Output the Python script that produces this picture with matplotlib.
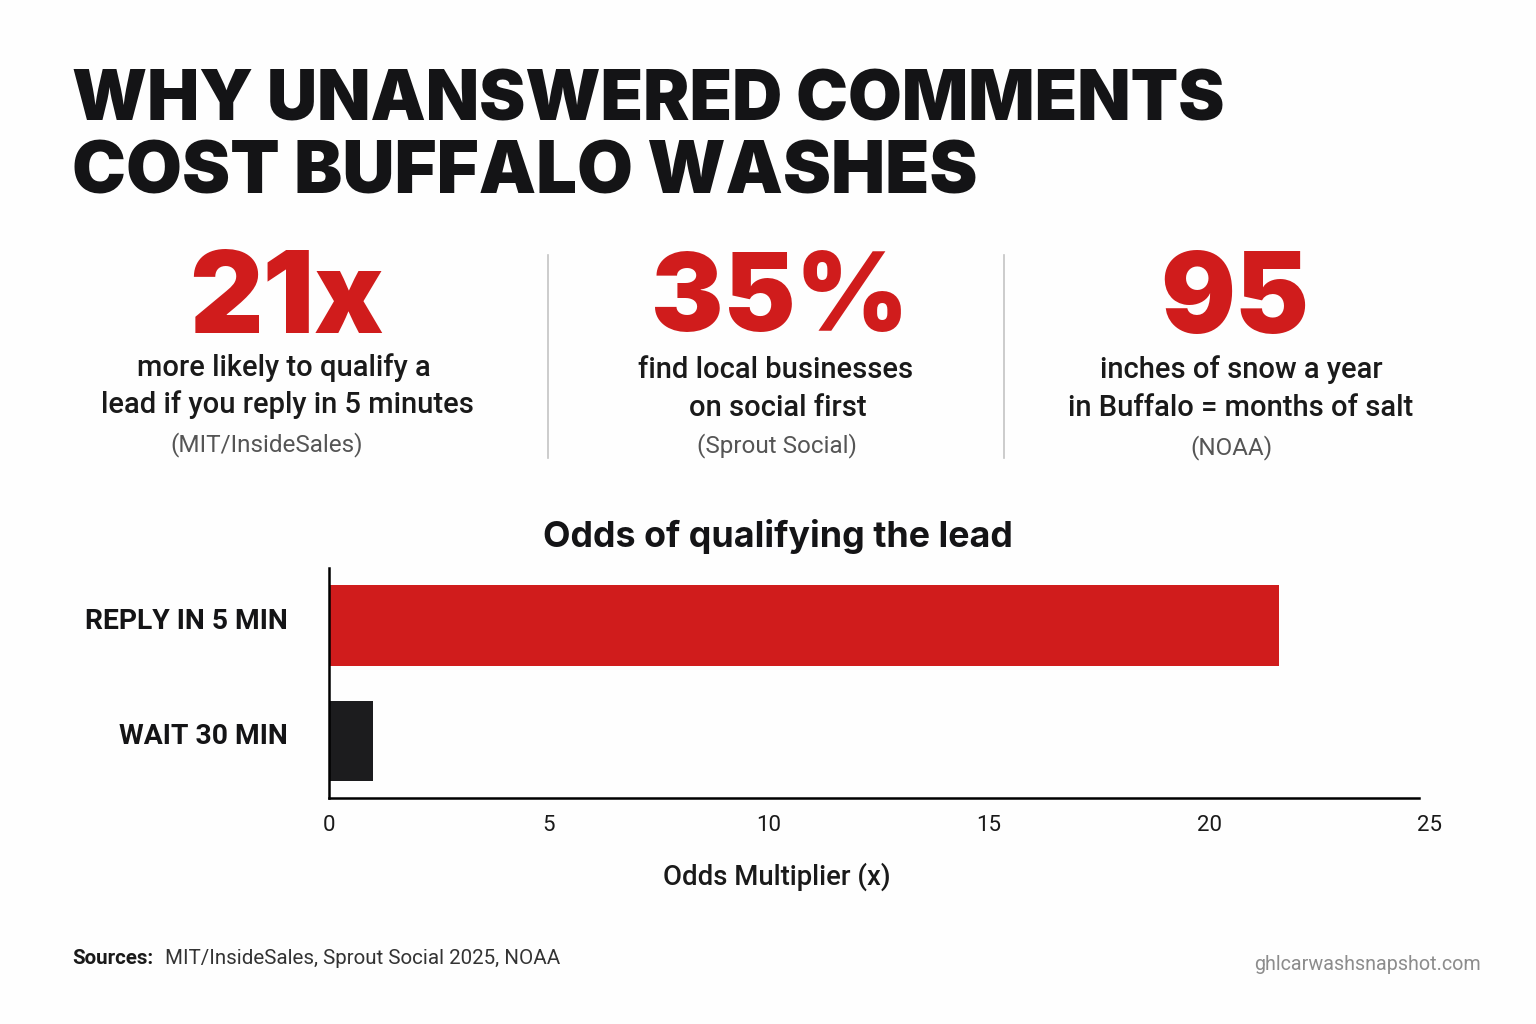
import matplotlib
matplotlib.use("Agg")
import matplotlib.pyplot as plt
from matplotlib.lines import Line2D

plt.rcParams['font.family'] = ['Roboto', 'Inter', 'DejaVu Sans']

RED = '#d01c1c'
DARK = '#1c1c1e'
GREY = '#555555'

W = 1536
H = 1024

title_lines = ['WHY UNANSWERED COMMENTS', 'COST BUFFALO WASHES']
stats = ['21x', '35%', '95']
stat_x = [286, 780, 1235]
stat_size = [82, 78, 80]
stat_lines = [
    ['more likely to qualify a', 'lead if you reply in 5 minutes'],
    ['find local businesses', 'on social first'],
    ['inches of snow a year', 'in Buffalo = months of salt'],
]
line_x = [[284, 287], [776, 778], [1241, 1241]]
line_y = [[368, 405], [370, 408], [370, 408]]
stat_src = ['(MIT/InsideSales)', '(Sprout Social)', '(NOAA)']
src_x = [267, 777, 1231]
src_y = [445, 446, 448]

categories = ['REPLY IN 5 MIN', 'WAIT 30 MIN']
odds = [21.6, 1]
bar_colors = [RED, DARK]
ticks = [0, 5, 10, 15, 20, 25]

fig = plt.figure(figsize=(W / 100, H / 100), dpi=100, facecolor='#fefefe')

def T(x, y, s, **kw):
    kw.setdefault('ha', 'center')
    kw.setdefault('va', 'center')
    return fig.text(x / W, 1 - y / H, s, **kw)

# headline, Inter is wider like the reference
T(72, 102, title_lines[0], ha='left', fontsize=50, fontweight='black', color='#141416', family='Inter')
T(72, 175, title_lines[1], ha='left', fontsize=52, fontweight='black', color='#141416', family='Inter')

# three stats
for i in range(3):
    T(stat_x[i], 303, stats[i], fontsize=stat_size[i], fontweight='black', color=RED, family='Inter')
    T(line_x[i][0], line_y[i][0], stat_lines[i][0], fontsize=21, fontweight='medium', color='#1a1a1a')
    T(line_x[i][1], line_y[i][1], stat_lines[i][1], fontsize=21, fontweight='medium', color='#1a1a1a')
    T(src_x[i], src_y[i], stat_src[i], fontsize=17.5, color=GREY)

for x in [548, 1004]:
    fig.add_artist(Line2D([x / W, x / W], [1 - 255 / H, 1 - 458 / H], color='#c4c4c4', lw=1.2))

# bar chart
ax = fig.add_axes([329 / W, 1 - 798 / H, 1100 / W, (798 - 568) / H])
ax.set_facecolor('none')
ax.barh(categories, odds, color=bar_colors, height=0.7)
ax.set_xticks(ticks)
ax.set_xticklabels(ticks)
ax.set_ylim(1.494, -0.498)
ax.set_xlim(0, 25)
ax.tick_params(axis='x', length=0, labelsize=16, pad=12.5, labelcolor='#1a1a1a')
ax.set_yticks(range(len(categories)))
ax.set_yticklabels([])
ax.tick_params(axis='y', length=0)
# labels sit a little above the bar centres, so annotate instead of tick labels
for i, cat in enumerate(categories):
    ax.annotate(cat, xy=(0, i), xytext=(-29.5, 3), textcoords='offset points', ha='right', va='center',
                fontsize=20.3, fontweight='bold', color='#141416')
ax.spines['top'].set_visible(False)
ax.spines['right'].set_visible(False)
ax.spines['left'].set_linewidth(1.8)
ax.spines['bottom'].set_linewidth(1.8)
ax.spines['bottom'].set_bounds(0, 24.77)

T(778, 537, 'Odds of qualifying the lead', fontsize=25.8, fontweight='bold', color='#141416', family='Inter')
T(777, 877, 'Odds Multiplier (x)', fontsize=19.8, fontweight='medium', color='#1a1a1a')

# footer
T(72, 958, 'Sources:', ha='left', fontsize=14.8, fontweight='bold', color='#1a1a1a')
T(165, 958, 'MIT/InsideSales, Sprout Social 2025, NOAA', ha='left', fontsize=14.8, color='#333333')
T(1481, 965, 'ghlcarwashsnapshot.com', ha='right', fontsize=14.2, color='#8c8c8c')

fig.savefig('out.png', dpi=100, facecolor=fig.get_facecolor())
